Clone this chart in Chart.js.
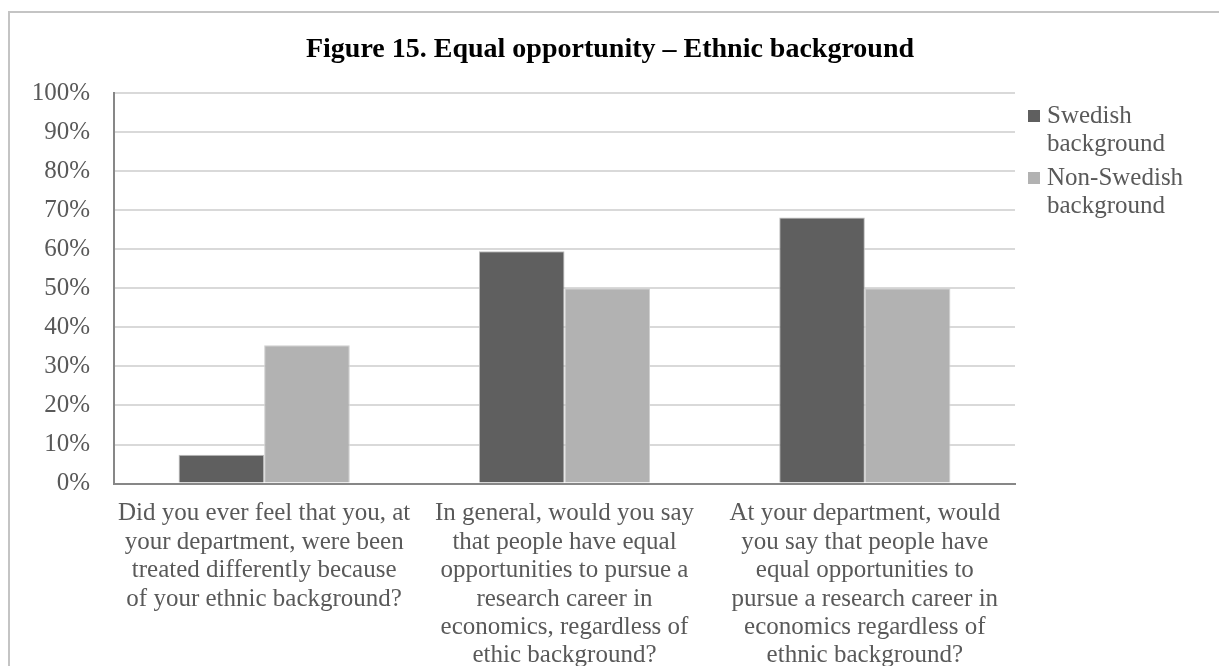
<!DOCTYPE html>
<html>
<head>
<meta charset="utf-8">
<script src="https://cdn.jsdelivr.net/npm/chart.js@4"></script>
<style>
  html, body { margin: 0; padding: 0; background: #fff; overflow: hidden; }
  #wrap { position: relative; width: 1219px; height: 700px; }
  #frame {
    position: absolute; left: 8px; top: 11px; width: 1400px; height: 900px;
    border: 2px solid #c4c4c4; pointer-events: none;
  }
</style>
</head>
<body>
<div id="wrap">
  <canvas id="chartCanvas"></canvas>
  <div id="frame"></div>
</div>
<script>

const questions = [
    ["Did you ever feel that you, at", "your department, were been", "treated differently because", "of your ethnic background?"],
    ["In general, would you say", "that people have equal", "opportunities to pursue a", "research career in", "economics, regardless of", "ethic background?"],
    ["At your department, would", "you say that people have", "equal opportunities to", "pursue a research career in", "economics regardless of", "ethnic background?"]
];

const swedish = [7.4, 59.5, 68.1];
const nonSwedish = [35.4, 50, 50];

const seriesNames = ["Swedish background", "Non-Swedish background"];
const seriesColors = ["#5f5f5f", "#b2b2b2"];

const yTicks = [0, 10, 20, 30, 40, 50, 60, 70, 80, 90, 100];

const titleText = "Figure 15. Equal opportunity \u2013 Ethnic background";

const serif = "'Liberation Serif', 'DejaVu Serif', serif";
const textColor = "#595959";

// title centred on the whole frame, not just the plot
const frameTitle = {
    id: "frameTitle",
    afterDraw(chart) {
        const ctx = chart.ctx;
        ctx.save();
        ctx.font = "bold 28px " + serif;
        ctx.fillStyle = "#000";
        ctx.textAlign = "center";
        ctx.textBaseline = "middle";
        ctx.fillText(titleText, 610, 50);
        ctx.restore();
    }
};

// legend on the right, names wrapped onto two lines
const sideLegend = {
    id: "sideLegend",
    afterDraw(chart) {
        const ctx = chart.ctx;
        const x = chart.chartArea.right + 13;
        let y = 116;
        ctx.save();
        ctx.font = "25px " + serif;
        ctx.textBaseline = "middle";
        seriesNames.forEach((name, i) => {
            // break the name into lines that fit the legend column
            let lines = [];
            let cur = "";
            name.split(" ").forEach(word => {
                const test = cur ? cur + " " + word : word;
                if (cur && ctx.measureText(test).width > 165) {
                    lines.push(cur);
                    cur = word;
                } else {
                    cur = test;
                }
            });
            lines.push(cur);

            ctx.fillStyle = seriesColors[i];
            ctx.fillRect(x, y - 6, 12, 12);
            ctx.fillStyle = textColor;
            lines.forEach((line, j) => {
                ctx.fillText(line, x + 19, y + j * 28);
            });
            y += lines.length * 28 + 6;
        });
        ctx.restore();
    }
};

let ctx = document.querySelector("#chartCanvas");

let graph = new Chart(ctx, {

    type: "bar",

    data: {
        labels: questions,
        datasets: [
            {
                label: seriesNames[0],
                data: swedish,
                backgroundColor: seriesColors[0],
                borderColor: "#bdbdbd",
                borderWidth: 1
            },
            {
                label: seriesNames[1],
                data: nonSwedish,
                backgroundColor: seriesColors[1],
                borderColor: "#cfcfcf",
                borderWidth: 1
            }
        ]
    },

    options: {
        responsive: true,
        maintainAspectRatio: false,
        animation: false,
        categoryPercentage: 0.57,
        barPercentage: 1,
        layout: {
            padding: { left: 32, right: 204, top: 93, bottom: 22 }
        },
        scales: {
            x: {
                grid: { display: false },
                border: { display: true, color: "#878787", width: 2 },
                afterFit: (axis) => {
                    axis.paddingLeft = 0;
                    axis.paddingRight = 0;
                },
                ticks: {
                    color: textColor,
                    font: { family: serif, size: 25, lineHeight: 1.136 },
                    padding: 8,
                    maxRotation: 0,
                    autoSkip: false
                }
            },
            y: {
                min: 0,
                max: 100,
                afterBuildTicks: (axis) => {
                    axis.ticks = yTicks.map(v => ({ value: v }));
                },
                afterFit: (axis) => {
                    axis.width = 82;
                },
                grid: { color: "#d9d9d9", lineWidth: 2, drawTicks: false },
                border: { display: true, color: "#878787", width: 2 },
                ticks: {
                    color: textColor,
                    font: { family: serif, size: 25, lineHeight: 1.136 },
                    padding: 24,
                    callback: (v) => v + "%"
                }
            }
        },
        plugins: {
            legend: { display: false },
            tooltip: { enabled: false },
            title: { display: false }
        }
    },

    plugins: [frameTitle, sideLegend]
});

</script>
</body>
</html>
